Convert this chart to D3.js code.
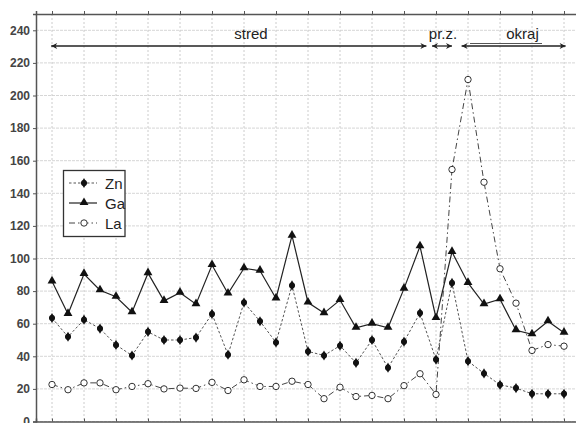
<!DOCTYPE html>
<html><head><meta charset="utf-8">
<script src="https://cdn.jsdelivr.net/npm/d3@7"></script>
<style>body{margin:0;background:#fff;}svg{display:block;font-family:"Liberation Sans",Arial,sans-serif;}</style>
</head><body><svg id="c" width="576" height="423"></svg>
<script>
const samples = d3.range(33);
const yTicks = [0,20,40,60,80,100,120,140,160,180,200,220,240];
const zn = [63.5,52,62.5,57,47,40.5,55,50,50,51.5,66,41,73,61.5,48.5,83.5,43,40.5,46.5,36,50,33,49,66.5,38,85,37,29.5,22.5,20.5,17,17,17];
const ga = [86,66,90.5,80.5,76.5,67,91,74,79,72,96,78.5,94,92.5,75.5,114,73,66.5,74.5,57.5,60,57.5,81.5,107.5,63.5,104,85,72,75,56,53.5,61.5,54.5];
const la = [22.7,19.5,23.7,23.7,19.5,21.5,23.2,20,20.5,20.3,24,19,25.6,21.5,21.5,24.7,22.7,14,21,15.3,16,14,22,29.3,16.6,154.6,209.8,146.8,93.7,72.6,43.6,47.2,46.2];
const seriesNames = ["Zn","Ga","La"];
const zones = [{label:"stred",from:-0.05,to:23.4},{label:"pr.z.",from:23.75,to:25},{label:"okraj",from:25.6,to:32.1}];

const svg = d3.select("#c");
const x = d3.scaleLinear().domain([-1,34]).range([36,596]);
const y = d3.scaleLinear().domain([0,250]).range([421.5,14]);
const L = 36, T = 14, B = 421.5, R = 576;

// grid
svg.append("g").selectAll("line").data(yTicks).join("line")
  .attr("x1",L).attr("x2",R).attr("y1",d=>y(d)).attr("y2",d=>y(d))
  .attr("stroke","#d6d6d6").attr("stroke-width",1).attr("stroke-dasharray","3,1");
const vgrid = samples.filter(i=>i%2===0);
svg.append("g").selectAll("line").data(vgrid).join("line")
  .attr("x1",d=>x(d)).attr("x2",d=>x(d)).attr("y1",T).attr("y2",B)
  .attr("stroke","#cccccc").attr("stroke-width",1).attr("stroke-dasharray","2,2");

// axes
const yAxis = d3.axisLeft(y).tickValues(yTicks).tickSize(3).tickPadding(3);
const gy = svg.append("g").attr("transform",`translate(${L},0)`).call(yAxis);
gy.select(".domain").attr("stroke","#555").attr("stroke-width",1.5);
gy.selectAll(".tick line").attr("stroke","#555");
gy.selectAll("text").attr("font-size",12).attr("font-weight","bold").attr("fill","#444")
  .attr("font-family","'Liberation Sans',Arial,sans-serif");
const xTop = d3.axisTop(x).tickValues(vgrid).tickSize(3).tickFormat("");
const gx = svg.append("g").attr("transform",`translate(0,${T})`).call(xTop);
gx.select(".domain").attr("stroke","#555").attr("stroke-width",1.5);
gx.selectAll(".tick line").attr("stroke","#555");
const xBot = d3.axisBottom(x).tickValues(vgrid).tickSize(-3).tickFormat("");
const gb = svg.append("g").attr("transform",`translate(0,${B})`).call(xBot);
gb.select(".domain").attr("stroke","#555").attr("stroke-width",1.5);
gb.selectAll(".tick line").attr("stroke","#555");

// lines
const line = d3.line().x((d,i)=>x(i)).y(d=>y(d));
svg.append("path").datum(la).attr("d",line).attr("fill","none").attr("stroke","#444")
  .attr("stroke-width",1).attr("stroke-dasharray","6,3,1.5,3");
svg.append("path").datum(zn).attr("d",line).attr("fill","none").attr("stroke","#555")
  .attr("stroke-width",1).attr("stroke-dasharray","2.5,2");
svg.append("path").datum(ga).attr("d",line).attr("fill","none").attr("stroke","#222")
  .attr("stroke-width",1.2);

const tri = d3.symbol().type(d3.symbolTriangle).size(34)();
const dia = d3.symbol().type(d3.symbolDiamond).size(30)();
svg.append("g").selectAll("path").data(zn).join("path")
  .attr("d",dia).attr("transform",(d,i)=>`translate(${x(i)},${y(d)})`).attr("fill","#111");
svg.append("g").selectAll("circle").data(zn).join("circle")
  .attr("cx",(d,i)=>x(i)).attr("cy",d=>y(d)).attr("r",3).attr("fill","#111");
svg.append("g").selectAll("path").data(ga).join("path")
  .attr("d",tri).attr("transform",(d,i)=>`translate(${x(i)},${y(d)-0.5})`).attr("fill","#111");
svg.append("g").selectAll("circle").data(la).join("circle")
  .attr("cx",(d,i)=>x(i)).attr("cy",d=>y(d)).attr("r",3.2).attr("fill","#fff")
  .attr("stroke","#333").attr("stroke-width",1);

// annotations
const defs = svg.append("defs");
defs.append("marker").attr("id","ah").attr("viewBox","0 0 10 10").attr("refX",10).attr("refY",5)
  .attr("markerWidth",8).attr("markerHeight",6).attr("markerUnits","userSpaceOnUse").attr("orient","auto-start-reverse")
  .append("path").attr("d","M0,0 L10,5 L0,10 L3,5 Z").attr("fill","#222");
const ay = 46;
zones.forEach(z=>{
  svg.append("line").attr("x1",x(z.from)).attr("x2",x(z.to)).attr("y1",ay).attr("y2",ay)
    .attr("stroke","#222").attr("stroke-width",1.3)
    .attr("marker-start","url(#ah)").attr("marker-end","url(#ah)");
});
const labelX = {"stred":251,"pr.z.":443,"okraj":522.5};
zones.forEach(z=>{
  svg.append("text").attr("x",labelX[z.label]).attr("y",39).attr("text-anchor","middle")
    .attr("font-size",15).attr("fill","#222").text(z.label);
});
svg.append("line").attr("x1",470).attr("x2",542).attr("y1",43.5).attr("y2",43.5)
  .attr("stroke","#555").attr("stroke-width",1);

// legend
const lg = svg.append("g");
lg.append("rect").attr("x",63.5).attr("y",170.5).attr("width",61.5).attr("height",66)
  .attr("fill","#fff").attr("stroke","#333").attr("stroke-width",1.3);
const ly = [183,203,223];
const styles = [
  {dash:"2.5,2",stroke:"#555",w:1},
  {dash:null,stroke:"#222",w:1.2},
  {dash:"6,3,1.5,3",stroke:"#444",w:1}
];
seriesNames.forEach((n,k)=>{
  const l = lg.append("line").attr("x1",69).attr("x2",97).attr("y1",ly[k]).attr("y2",ly[k])
    .attr("stroke",styles[k].stroke).attr("stroke-width",styles[k].w);
  if(styles[k].dash) l.attr("stroke-dasharray",styles[k].dash);
  if(k===0){
    lg.append("path").attr("d",dia).attr("transform",`translate(84,${ly[k]})`).attr("fill","#111");
    lg.append("circle").attr("cx",84).attr("cy",ly[k]).attr("r",3).attr("fill","#111");
  } else if(k===1){
    lg.append("path").attr("d",tri).attr("transform",`translate(84,${ly[k]-0.5})`).attr("fill","#111");
  } else {
    lg.append("circle").attr("cx",84).attr("cy",ly[k]).attr("r",3.2).attr("fill","#fff").attr("stroke","#333");
  }
  lg.append("text").attr("x",105).attr("y",ly[k]+5.5).attr("font-size",15).attr("fill","#222").text(n);
});
</script></body></html>
